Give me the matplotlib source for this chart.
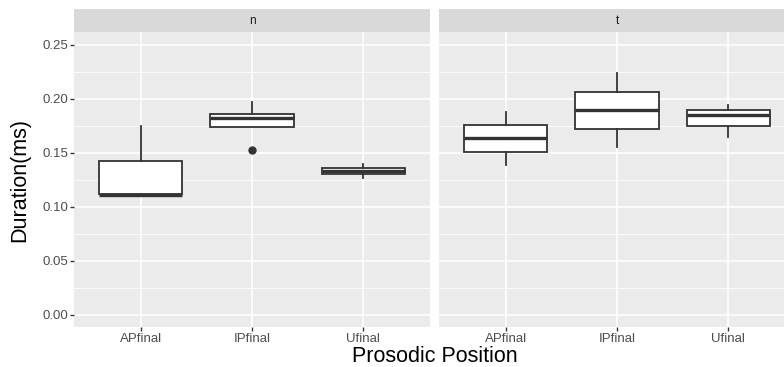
import matplotlib
matplotlib.use("Agg")
import matplotlib.pyplot as plt

# boxplot five-number summaries per facet
positions = ["APfinal", "IPfinal", "Ufinal"]
facets = ["n", "t"]

n_low = [0.111, 0.174, 0.127]
n_q1 = [0.1115, 0.1737, 0.1307]
n_med = [0.111, 0.182, 0.1332]
n_q3 = [0.1425, 0.186, 0.1357]
n_high = [0.175, 0.197, 0.1394]
n_fliers = [[], [0.1524], []]

t_low = [0.1388, 0.1557, 0.1647]
t_q1 = [0.1508, 0.1724, 0.1746]
t_med = [0.164, 0.1898, 0.1848]
t_q3 = [0.176, 0.2067, 0.1895]
t_high = [0.188, 0.2238, 0.194]
t_fliers = [[], [], []]

yticks = [0.00, 0.05, 0.10, 0.15, 0.20, 0.25]

plt.rcParams["font.family"] = ["Liberation Sans", "DejaVu Sans"]

fig = plt.figure(figsize=(7.84, 3.67), dpi=100)
W, H = 784, 367


def frac(x0, y0, x1, y1):
    return [x0 / W, 1 - y1 / H, (x1 - x0) / W, (y1 - y0) / H]


data = {
    "n": (n_low, n_q1, n_med, n_q3, n_high, n_fliers),
    "t": (t_low, t_q1, t_med, t_q3, t_high, t_fliers),
}
lefts = [74, 439]

for i, f in enumerate(facets):
    x0 = lefts[i]
    ax = fig.add_axes(frac(x0, 32, x0 + 356, 327))
    ax.set_facecolor("#EBEBEB")
    for s in ax.spines.values():
        s.set_visible(False)
    low, q1, med, q3, high, fl = data[f]
    stats = []
    for k in range(len(positions)):
        stats.append({"whislo": low[k], "q1": q1[k], "med": med[k], "q3": q3[k],
                      "whishi": high[k], "fliers": fl[k]})
    ax.bxp(stats, positions=[1, 2, 3], widths=0.75, patch_artist=True,
           showcaps=False, zorder=3,
           boxprops=dict(facecolor="white", edgecolor="#333333", linewidth=1.3),
           medianprops=dict(color="#333333", linewidth=2.4),
           whiskerprops=dict(color="#333333", linewidth=1.3),
           flierprops=dict(marker="o", markerfacecolor="#333333",
                           markeredgecolor="#333333", markersize=5))
    ax.set_xlim(0.4, 3.6)
    ax.set_ylim(-0.0114, 0.262)
    ax.set_yticks(yticks)
    ax.set_yticks([0.025, 0.075, 0.125, 0.175, 0.225], minor=True)
    ax.set_xticks([1, 2, 3])
    ax.set_xticklabels(positions)
    ax.grid(True, which="major", color="white", linewidth=1.2, zorder=0)
    ax.grid(True, which="minor", axis="y", color="white", linewidth=0.6, zorder=0)
    ax.set_axisbelow(True)
    ax.tick_params(axis="both", which="major", length=3, width=1, color="#333333",
                   labelsize=9.5, labelcolor="#4D4D4D", pad=1)
    ax.tick_params(axis="both", which="minor", length=0)
    if i == 0:
        ax.set_yticklabels(["%.2f" % v for v in yticks])
    else:
        ax.tick_params(axis="y", left=False, labelleft=False)

    sax = fig.add_axes(frac(x0, 9, x0 + 356, 32))
    sax.set_facecolor("#D9D9D9")
    sax.set_xticks([])
    sax.set_yticks([])
    for s in sax.spines.values():
        s.set_visible(False)
    sax.text(0.5, 0.5, f, ha="center", va="center", fontsize=8.5,
             color="#1A1A1A", transform=sax.transAxes)

fig.text(435 / W, 1 - 362.5 / H, "Prosodic Position", ha="center", va="baseline",
         fontsize=15.5, color="black")
fig.text(20 / W, 1 - 180 / H, "Duration(ms)", ha="center", va="center",
         rotation=90, fontsize=15.5, color="black")

fig.savefig("out.png", dpi=100)
